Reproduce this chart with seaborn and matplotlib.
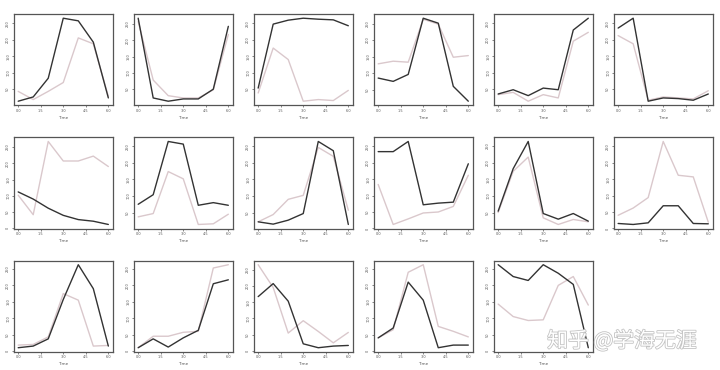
import numpy as np
import pandas as pd
import matplotlib
matplotlib.use("Agg")
import matplotlib.pyplot as plt
import matplotlib.patheffects as pe
import seaborn as sns

TIME = [0, 1, 2, 3, 4, 5, 6]

DARK = [
    [13, 26, 83, 266, 258, 193, 23],
    [268, 23, 13, 20, 20, 50, 243],
    [53, 248, 260, 266, 263, 261, 243],
    [85, 75, 96, 266, 251, 60, 15],
    [35, 48, 30, 53, 48, 230, 266],
    [236, 266, 13, 23, 21, 16, 35],
    [112, 90, 62, 40, 27, 22, 12],
    [75, 104, 265, 257, 72, 80, 72],
    [22, 15, 27, 47, 265, 237, 14],
    [234, 234, 265, 72, 77, 80, 197],
    [54, 182, 264, 47, 30, 47, 24],
    [15, 12, 17, 69, 69, 15, 14],
    [10, 15, 37, 157, 263, 190, 15],
    [10, 37, 12, 40, 63, 205, 217],
    [167, 207, 153, 22, 10, 15, 17],
    [40, 70, 210, 155, 10, 18, 18],
    [263, 227, 215, 263, 237, 203, 10],
]
LIGHT = [
    [43, 18, 43, 70, 206, 188, 28],
    [258, 78, 30, 23, 23, 48, 218],
    [38, 175, 140, 13, 18, 15, 46],
    [128, 136, 133, 263, 248, 148, 153],
    [33, 40, 13, 33, 23, 196, 223],
    [213, 188, 16, 26, 23, 20, 45],
    [102, 42, 267, 207, 207, 222, 190],
    [37, 47, 174, 152, 14, 16, 45],
    [22, 44, 90, 102, 247, 220, 57],
    [134, 12, 29, 47, 50, 67, 162],
    [50, 174, 217, 34, 14, 29, 22],
    [40, 62, 94, 265, 162, 157, 19],
    [18, 20, 43, 175, 155, 15, 17],
    [10, 45, 45, 57, 60, 253, 263],
    [265, 195, 55, 93, 60, 25, 57],
    [40, 65, 240, 263, 75, 60, 43],
    [143, 105, 93, 95, 200, 227, 140],
]
SERIES = ["actual", "predicted"]
XLABEL = "Time"
WATERMARK = "知乎 @学海无涯"

sns.set_style("ticks")
plt.rcParams['font.family'] = ['DejaVu Sans']

fig, axes = plt.subplots(3, 6, figsize=(7.2, 3.7), dpi=100)
fig.subplots_adjust(left=0.019, right=0.990, top=0.962, bottom=0.049,
                    wspace=0.21, hspace=0.35)

palette = {"actual": "#333333", "predicted": "#dac8cc"}

for i, ax in enumerate(axes.flat):
    if i >= len(DARK):
        ax.axis("off")
        continue
    df = pd.DataFrame({
        "Time": TIME * 2,
        "value": DARK[i] + LIGHT[i],
        "series": [SERIES[0]] * len(TIME) + [SERIES[1]] * len(TIME),
    })
    sns.lineplot(data=df, x="Time", y="value", hue="series", palette=palette,
                 hue_order=[SERIES[1], SERIES[0]], ax=ax, legend=False,
                 linewidth=1.0)
    ax.set_xlabel(XLABEL, fontsize=3, color="#555555", labelpad=2)
    ax.set_ylabel("")
    ax.xaxis.set_major_locator(matplotlib.ticker.MaxNLocator(5))
    ax.yaxis.set_major_locator(matplotlib.ticker.MaxNLocator(6))
    ax.tick_params(axis="both", labelsize=2.5, length=1.5, width=0.5,
                   colors="#555555", pad=1)
    for lbl in ax.get_yticklabels():
        lbl.set_rotation(90)
        lbl.set_va("center")
    for s in ax.spines.values():
        s.set_color("#555555")
        s.set_linewidth(0.9)

fig.text(0.760, 0.078, WATERMARK, fontsize=15, color="#ffffff",
         family=['Noto Sans CJK SC', 'DejaVu Sans'], ha="left", va="center",
         path_effects=[pe.withStroke(linewidth=1.2, foreground="#c4c4c4")])

fig.savefig("out.png", dpi=100)
